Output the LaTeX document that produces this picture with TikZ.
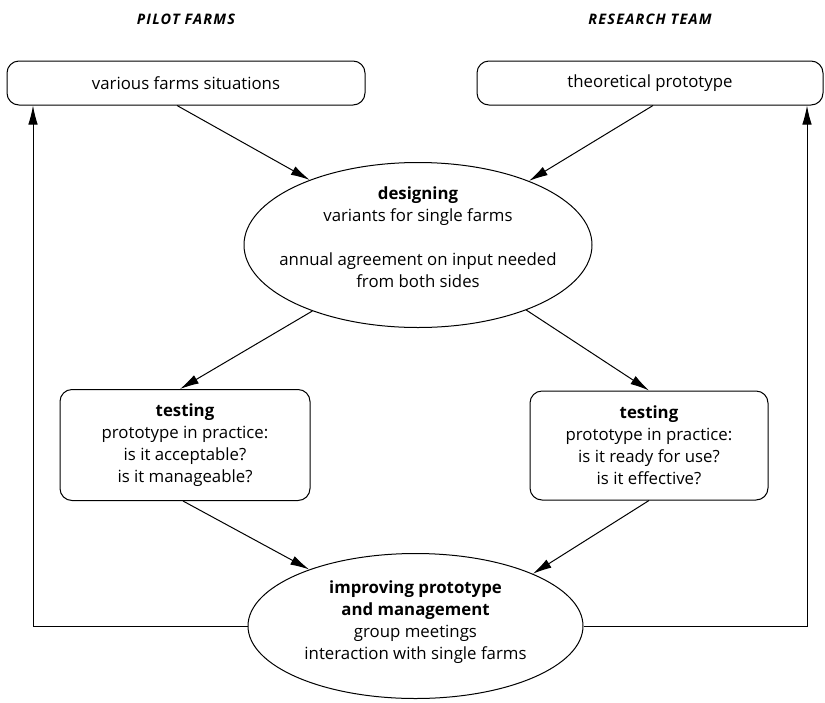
\documentclass[tikz,border=0pt]{standalone}
\usepackage{fontspec}
\setmainfont{Open Sans}
\usetikzlibrary{shapes.geometric,arrows.meta}
\begin{document}
\begin{tikzpicture}[x=1pt,y=-1pt,
  every node/.style={font=\fontsize{16.8}{22}\selectfont},
  box/.style={draw,line width=1pt,rounded corners=12pt,inner sep=0pt,align=center},
  oval/.style={draw,line width=1pt,ellipse,inner sep=-30pt,align=center},
  head/.style={font=\fontsize{14.5}{16}\selectfont\itshape\bfseries\addfontfeature{LetterSpace=8}},
  arr/.style={line width=1pt,-{Latex[length=19pt,width=9.5pt]}}]
  \useasboundingbox (0,0) rectangle (825,702);
  % column headings
  \node[head] (hpilot) at (186,19) {PILOT FARMS};
  \node[head] (hteam) at (650,19) {RESEARCH TEAM};
  % starting situations
  \node[box,minimum width=358pt,minimum height=44pt] (farms) at (186,83) {various farms situations};
  \node[box,minimum width=346pt,minimum height=44pt] (proto) at (650,83) {theoretical prototype};
  % design phase
  \node[oval,minimum width=348pt,minimum height=165pt] (design) at (418,245)
    {\textbf{designing}\\variants for single farms\\[22pt]annual agreement on input needed\\from both sides\\[-6pt]\mbox{}};
  % testing on both sides
  \node[box,minimum width=250pt,minimum height=111pt] (testl) at (185,445)
    {\textbf{testing}\\prototype in practice:\\is it acceptable?\\is it manageable?};
  \node[box,minimum width=238pt,minimum height=109pt] (testr) at (649,445.5)
    {\textbf{testing}\\prototype in practice:\\is it ready for use?\\is it effective?};
  % improvement phase
  \node[oval,minimum width=335pt,minimum height=145pt] (improve) at (415.5,626)
    {\textbf{improving prototype}\\\textbf{and management}\\group meetings\\interaction with single farms\\[-10pt]\mbox{}};
  % feedback rails
  \coordinate (lx) at (33,0);
  \coordinate (rx) at (807,0);
  % connectors
  \draw[arr] ([xshift=-9pt]farms.south) -- (design.149);
  \draw[arr] ([xshift=3pt]proto.south) -- (design.30.6);
  \draw[arr] (design.212) -- ([xshift=-5pt]testl.north);
  \draw[arr] (design.329) -- (testr.north);
  \draw[arr] ([xshift=-2pt]testl.south) -- (improve.152.5);
  \draw[arr] (testr.south) -- (improve.24.5);
  \draw[arr] (improve.west) -| (farms.south -| lx);
  \draw[arr] (improve.east) -| (proto.south -| rx);
\end{tikzpicture}
\end{document}
